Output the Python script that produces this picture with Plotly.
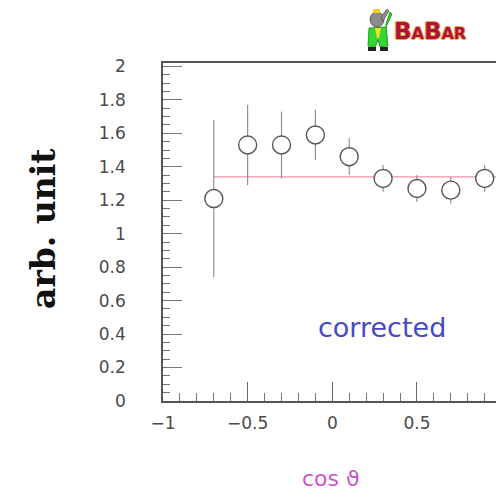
import plotly.graph_objects as go

# Measured angular distribution (cos theta bins), corrected
cos_theta = [-0.7, -0.5, -0.3, -0.1, 0.1, 0.3, 0.5, 0.7, 0.9]
yield_val = [1.21, 1.53, 1.53, 1.59, 1.46, 1.33, 1.27, 1.26, 1.33]
yield_err = [0.47, 0.24, 0.20, 0.15, 0.11, 0.08, 0.08, 0.08, 0.08]

# Constant fit level and its range
fit_level = 1.34
fit_range = [-0.7, 1.0]

x_ticks = [-1, -0.5, 0, 0.5, 1]
x_labels = ["\u22121", "\u22120.5", "0", "0.5", "1"]
y_ticks = [0, 0.2, 0.4, 0.6, 0.8, 1, 1.2, 1.4, 1.6, 1.8, 2]
y_labels = ["0", "0.2", "0.4", "0.6", "0.8", "1", "1.2", "1.4", "1.6", "1.8", "2"]

W, H = 496, 491
L, T, B = 163, 63, 90
PW, PH = W - L, H - T - B


def px(x):
    return (x - L) / PW


def py(y):
    return (H - B - y) / PH


fig = go.Figure()

fig.add_trace(go.Scatter(
    x=fit_range, y=[fit_level, fit_level], mode="lines",
    line=dict(color="#ea94a4", width=1.2), hoverinfo="skip", showlegend=False,
))

fig.add_trace(go.Scatter(
    x=cos_theta, y=yield_val, mode="markers",
    marker=dict(symbol="circle", size=18, color="white",
                line=dict(color="#555555", width=1.4)),
    error_y=dict(type="data", array=yield_err, visible=True,
                 color="#888888", thickness=1.1, width=0),
    showlegend=False,
))

axis_font = dict(family="DejaVu Sans", size=17, color="#4a4a4a")

fig.update_xaxes(
    range=[-1, -1 + PW / 169.3], showgrid=False, zeroline=False,
    showline=True, linecolor="#555555", linewidth=1.5, mirror=True,
    tickmode="array", tickvals=x_ticks, ticktext=x_labels,
    ticks="inside", ticklen=19, tickwidth=1, tickcolor="#666666",
    tickfont=axis_font, ticklabelstandoff=6,
    minor=dict(ticks="inside", dtick=0.1, tick0=0, ticklen=8,
               tickwidth=1, tickcolor="#777777"),
)
fig.update_yaxes(
    range=[0, 2.02], showgrid=False, zeroline=False,
    showline=True, linecolor="#555555", linewidth=1.5, mirror=False,
    tickmode="array", tickvals=y_ticks, ticktext=y_labels,
    ticks="inside", ticklen=19, tickwidth=1, tickcolor="#777777",
    tickfont=axis_font, ticklabelstandoff=32,
    minor=dict(ticks="inside", dtick=0.05, tick0=0, ticklen=7,
               tickwidth=1, tickcolor="#777777"),
)


def label(text, x, y, font, angle=0):
    return dict(text=text, x=px(x), y=py(y), xref="paper", yref="paper",
                xanchor="center", yanchor="middle", textangle=angle,
                showarrow=False, font=font)


annotations = [
    label("arb. unit", 44, 229,
          dict(family="DejaVu Serif", size=33, color="#111111", weight="bold"), -90),
    label("corrected", 382, 327,
          dict(family="DejaVu Sans", size=27, color="#4848c8")),
    label("cos \u03d1", 331, 478,
          dict(family="DejaVu Sans", size=22, color="#cc55cc")),
    label("B<span style='font-size:16px'>A</span>B<span style='font-size:16px'>A</span>"
          "<span style='font-size:16px'>R</span>", 430, 31,
          dict(family="DejaVu Sans", size=23, color="#b0123a", weight="bold",
               shadow="1px 0 #f5a640, -1px 0 #f5a640, 0 1px #f5a640, 0 -1px #f5a640")),
]

# Small mascot drawn next to the logo text
shapes = [
    # jacket
    dict(type="path", xref="paper", yref="paper",
         path=f"M {px(369)} {py(28)} L {px(386)} {py(27)} L {px(392)} {py(14)} L {px(390)} {py(12)} "
              f"L {px(386)} {py(24)} L {px(388)} {py(46)} L {px(380)} {py(47)} L {px(378)} {py(40)} "
              f"L {px(375)} {py(47)} L {px(368)} {py(46)} Z",
         fillcolor="#33d633", line=dict(color="#118811", width=0.8)),
    # shirt
    dict(type="path", xref="paper", yref="paper",
         path=f"M {px(375)} {py(28)} L {px(381)} {py(28)} L {px(379)} {py(38)} L {px(377)} {py(38)} Z",
         fillcolor="#f2e020", line=dict(width=0)),
    # head
    dict(type="circle", xref="paper", yref="paper",
         x0=px(370), x1=px(384), y0=py(27), y1=py(12),
         fillcolor="#8c8c8c", line=dict(color="#444444", width=0.8)),
    # trunk
    dict(type="path", xref="paper", yref="paper",
         path=f"M {px(381)} {py(17)} L {px(387)} {py(9)} L {px(389)} {py(11)} L {px(383)} {py(21)} Z",
         fillcolor="#8c8c8c", line=dict(color="#444444", width=0.6)),
    # crown
    dict(type="rect", xref="paper", yref="paper",
         x0=px(373), x1=px(380), y0=py(13), y1=py(9),
         fillcolor="#f2d21a", line=dict(width=0)),
    # shoes
    dict(type="rect", xref="paper", yref="paper",
         x0=px(368), x1=px(376), y0=py(51), y1=py(47),
         fillcolor="#222222", line=dict(width=0)),
    dict(type="rect", xref="paper", yref="paper",
         x0=px(380), x1=px(388), y0=py(51), y1=py(47),
         fillcolor="#222222", line=dict(width=0)),
]

fig.update_layout(
    width=W, height=H,
    margin=dict(l=L, r=0, t=T, b=B),
    paper_bgcolor="white", plot_bgcolor="white",
    annotations=annotations, shapes=shapes,
    showlegend=False,
)

fig.write_html("out.html")
